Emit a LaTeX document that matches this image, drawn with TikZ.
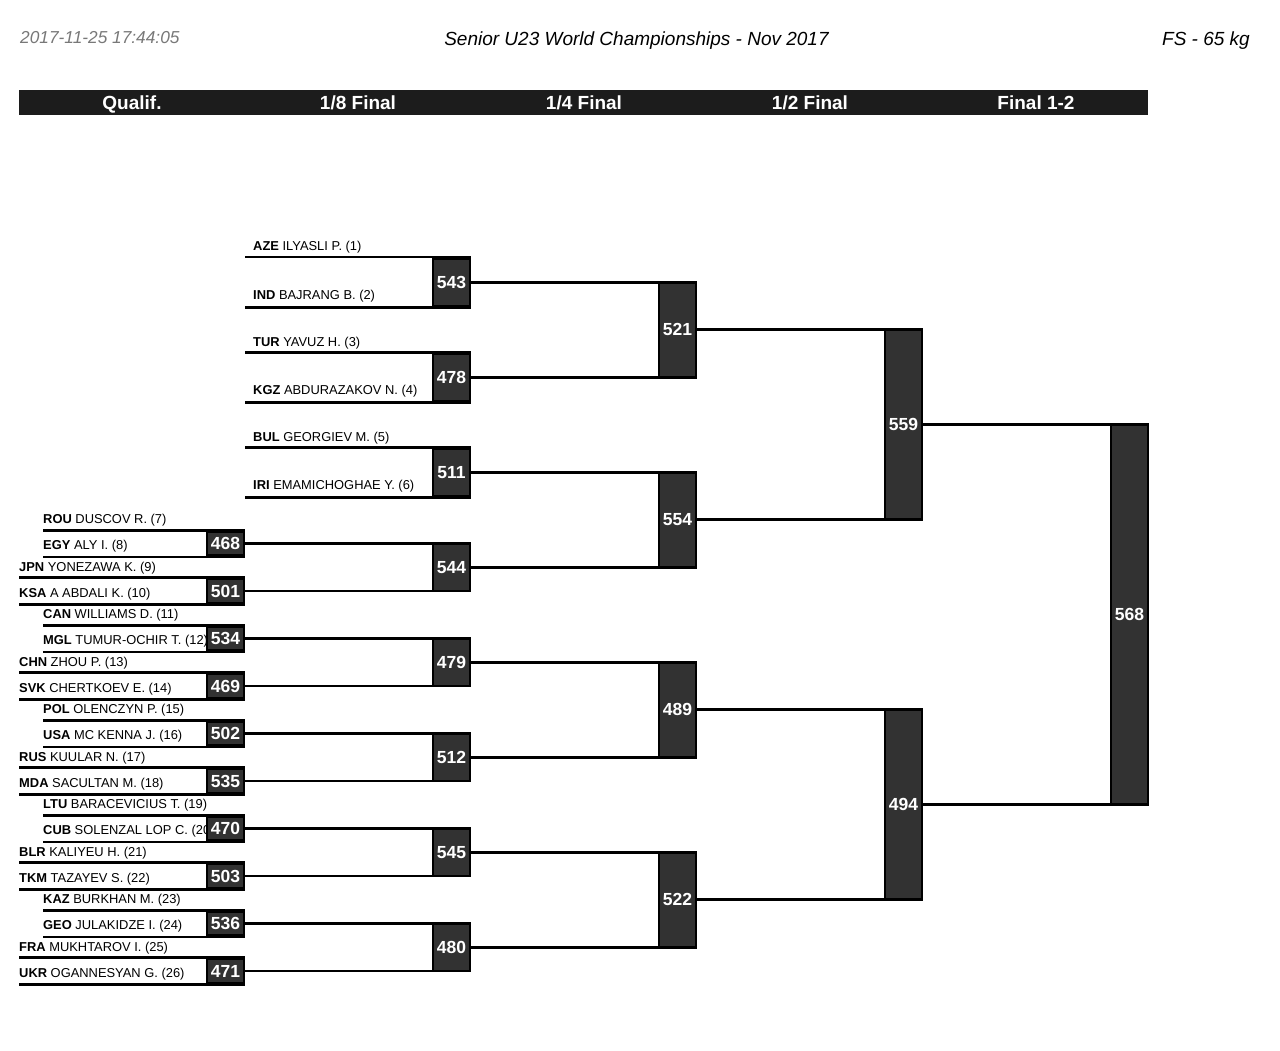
\documentclass[tikz,border=0pt]{standalone}
\usepackage{fontspec}
\setmainfont{Liberation Sans}
\usepackage{xcolor}
\usepackage{tikz}
\usetikzlibrary{positioning}
\definecolor{boxgray}{RGB}{50,50,50}
\definecolor{bargray}{RGB}{28,28,28}
\definecolor{stampgray}{RGB}{120,120,120}
\tikzstyle{matchbox} = [rectangle, fill=boxgray, draw=black, line width=2.6pt, minimum width=37pt, inner sep=0pt, text=white, font=\fontsize{17.5}{18}\selectfont\bfseries]
\tikzstyle{qualifbox} = [matchbox, minimum height=24pt]
\tikzstyle{eighthbox} = [matchbox, minimum height=47.5pt]
\tikzstyle{quarterbox} = [matchbox, minimum height=95pt]
\tikzstyle{semibox} = [matchbox, minimum height=190pt]
\tikzstyle{finalbox} = [matchbox, minimum height=380pt]
\tikzstyle{wname} = [anchor=base west, inner sep=0pt, font=\fontsize{12.9}{14}\selectfont]
\tikzstyle{wname8} = [wname, inner xsep=8pt]
\tikzstyle{roundlabel} = [anchor=base, inner sep=0pt, text=white, font=\fontsize{19}{19}\selectfont\bfseries]
\tikzstyle{headtext} = [inner sep=0pt, font=\fontsize{19}{19}\selectfont\itshape]
\tikzstyle{bline} = [line width=2.6pt, draw=black]

\begin{document}
\begin{tikzpicture}[x=1pt, y=-1pt]
\useasboundingbox (0,0) rectangle (1280,1051);

% page head
\node (stamp) [headtext, anchor=base west, text=stampgray, font=\fontsize{17.3}{18}\selectfont\itshape] at (20,44) {2017-11-25 17:44:05};
\node (title) [headtext, anchor=base] at (636.5,46) {Senior U23 World Championships - Nov 2017};
\node (weight) [headtext, anchor=base east] at (1250,46) {FS - 65 kg};

% round bar
\node (bar) [rectangle, fill=bargray, minimum width=1129pt, minimum height=25pt, inner sep=0pt] at (583.5,102.5) {};
\node (rqualif) [roundlabel] at (132,110) {Qualif.};
\node (reighth) [roundlabel] at (358,110) {1/8 Final};
\node (rquarter) [roundlabel] at (584,110) {1/4 Final};
\node (rsemi) [roundlabel] at (810,110) {1/2 Final};
\node (rfinal) [roundlabel] at (1036,110) {Final 1-2};

% wrestlers
\node (aze) [wname8] at (245,251) {\textbf{AZE} ILYASLI P. (1)};
\node (ind) [wname8] at (245,299.5) {\textbf{IND} BAJRANG B. (2)};
\node (tur) [wname8] at (245,346) {\textbf{TUR} YAVUZ H. (3)};
\node (kgz) [wname8] at (245,394.5) {\textbf{KGZ} ABDURAZAKOV N. (4)};
\node (bul) [wname8] at (245,441) {\textbf{BUL} GEORGIEV M. (5)};
\node (iri) [wname8] at (245,489.5) {\textbf{IRI} EMAMICHOGHAE Y. (6)};
\node (rou) [wname] at (43,523.5) {\textbf{ROU} DUSCOV R. (7)};
\node (egy) [wname] at (43,549.5) {\textbf{EGY} ALY I. (8)};
\node (jpn) [wname] at (19,571) {\textbf{JPN} YONEZAWA K. (9)};
\node (ksa) [wname] at (19,597) {\textbf{KSA} A ABDALI K. (10)};
\node (can) [wname] at (43,618.5) {\textbf{CAN} WILLIAMS D. (11)};
\node (mgl) [wname] at (43,644.5) {\textbf{MGL} TUMUR-OCHIR T. (12)};
\node (chn) [wname] at (19,666) {\textbf{CHN} ZHOU P. (13)};
\node (svk) [wname] at (19,692) {\textbf{SVK} CHERTKOEV E. (14)};
\node (pol) [wname] at (43,713.5) {\textbf{POL} OLENCZYN P. (15)};
\node (usa) [wname] at (43,739.5) {\textbf{USA} MC KENNA J. (16)};
\node (rus) [wname] at (19,761) {\textbf{RUS} KUULAR N. (17)};
\node (mda) [wname] at (19,787) {\textbf{MDA} SACULTAN M. (18)};
\node (ltu) [wname] at (43,808.5) {\textbf{LTU} BARACEVICIUS T. (19)};
\node (cub) [wname] at (43,834.5) {\textbf{CUB} SOLENZAL LOP C. (20)};
\node (blr) [wname] at (19,856) {\textbf{BLR} KALIYEU H. (21)};
\node (tkm) [wname] at (19,882) {\textbf{TKM} TAZAYEV S. (22)};
\node (kaz) [wname] at (43,903.5) {\textbf{KAZ} BURKHAN M. (23)};
\node (geo) [wname] at (43,929.5) {\textbf{GEO} JULAKIDZE I. (24)};
\node (fra) [wname] at (19,951) {\textbf{FRA} MUKHTAROV I. (25)};
\node (ukr) [wname] at (19,977) {\textbf{UKR} OGANNESYAN G. (26)};

% qualification
\node (q468) [qualifbox] at (225.5,543.5) {468};
\node (q501) [qualifbox] at (225.5,591) {501};
\node (q534) [qualifbox] at (225.5,638.5) {534};
\node (q469) [qualifbox] at (225.5,686) {469};
\node (q502) [qualifbox] at (225.5,733.5) {502};
\node (q535) [qualifbox] at (225.5,781) {535};
\node (q470) [qualifbox] at (225.5,828.5) {470};
\node (q503) [qualifbox] at (225.5,876) {503};
\node (q536) [qualifbox] at (225.5,923.5) {536};
\node (q471) [qualifbox] at (225.5,971) {471};

% 1/8 final
\node (e543) [eighthbox] at (451.5,282.25) {543};
\node (e478) [eighthbox] at (451.5,377.25) {478};
\node (e511) [eighthbox] at (451.5,472.25) {511};
\node (e544) [eighthbox] at (451.5,567.25) {544};
\node (e479) [eighthbox] at (451.5,662.25) {479};
\node (e512) [eighthbox] at (451.5,757.25) {512};
\node (e545) [eighthbox] at (451.5,852.25) {545};
\node (e480) [eighthbox] at (451.5,947.25) {480};

% 1/4 final
\node (k521) [quarterbox] at (677.5,329.75) {521};
\node (k554) [quarterbox] at (677.5,519.75) {554};
\node (k489) [quarterbox] at (677.5,709.75) {489};
\node (k522) [quarterbox] at (677.5,899.75) {522};

% 1/2 final and final
\node (s559) [semibox] at (903.5,424.75) {559};
\node (s494) [semibox] at (903.5,804.75) {494};
\node (f568) [finalbox] at (1129.5,614.75) {568};

% wrestler lines
\draw [bline] (aze.base west |- e543.north) -- (e543.north east);
\draw [bline] (ind.base west |- e543.south) -- (e543.south east);
\draw [bline] (tur.base west |- e478.north) -- (e478.north east);
\draw [bline] (kgz.base west |- e478.south) -- (e478.south east);
\draw [bline] (bul.base west |- e511.north) -- (e511.north east);
\draw [bline] (iri.base west |- e511.south) -- (e511.south east);
\draw [bline] (rou.base west |- q468.north) -- (q468.north east);
\draw [bline] (egy.base west |- q468.south) -- (q468.south east);
\draw [bline] (jpn.base west |- q501.north) -- (q501.north east);
\draw [bline] (ksa.base west |- q501.south) -- (q501.south east);
\draw [bline] (can.base west |- q534.north) -- (q534.north east);
\draw [bline] (mgl.base west |- q534.south) -- (q534.south east);
\draw [bline] (chn.base west |- q469.north) -- (q469.north east);
\draw [bline] (svk.base west |- q469.south) -- (q469.south east);
\draw [bline] (pol.base west |- q502.north) -- (q502.north east);
\draw [bline] (usa.base west |- q502.south) -- (q502.south east);
\draw [bline] (rus.base west |- q535.north) -- (q535.north east);
\draw [bline] (mda.base west |- q535.south) -- (q535.south east);
\draw [bline] (ltu.base west |- q470.north) -- (q470.north east);
\draw [bline] (cub.base west |- q470.south) -- (q470.south east);
\draw [bline] (blr.base west |- q503.north) -- (q503.north east);
\draw [bline] (tkm.base west |- q503.south) -- (q503.south east);
\draw [bline] (kaz.base west |- q536.north) -- (q536.north east);
\draw [bline] (geo.base west |- q536.south) -- (q536.south east);
\draw [bline] (fra.base west |- q471.north) -- (q471.north east);
\draw [bline] (ukr.base west |- q471.south) -- (q471.south east);

% winners move on
\draw [bline] (q468.east) -- (q468.east -| e544.east);
\draw [bline] (q501.east) -- (q501.east -| e544.east);
\draw [bline] (q534.east) -- (q534.east -| e479.east);
\draw [bline] (q469.east) -- (q469.east -| e479.east);
\draw [bline] (q502.east) -- (q502.east -| e512.east);
\draw [bline] (q535.east) -- (q535.east -| e512.east);
\draw [bline] (q470.east) -- (q470.east -| e545.east);
\draw [bline] (q503.east) -- (q503.east -| e545.east);
\draw [bline] (q536.east) -- (q536.east -| e480.east);
\draw [bline] (q471.east) -- (q471.east -| e480.east);
\draw [bline] (e543.east) -- (e543.east -| k521.east);
\draw [bline] (e478.east) -- (e478.east -| k521.east);
\draw [bline] (e511.east) -- (e511.east -| k554.east);
\draw [bline] (e544.east) -- (e544.east -| k554.east);
\draw [bline] (e479.east) -- (e479.east -| k489.east);
\draw [bline] (e512.east) -- (e512.east -| k489.east);
\draw [bline] (e545.east) -- (e545.east -| k522.east);
\draw [bline] (e480.east) -- (e480.east -| k522.east);
\draw [bline] (k521.east) -- (k521.east -| s559.east);
\draw [bline] (k554.east) -- (k554.east -| s559.east);
\draw [bline] (k489.east) -- (k489.east -| s494.east);
\draw [bline] (k522.east) -- (k522.east -| s494.east);
\draw [bline] (s559.east) -- (s559.east -| f568.east);
\draw [bline] (s494.east) -- (s494.east -| f568.east);

\end{tikzpicture}
\end{document}
